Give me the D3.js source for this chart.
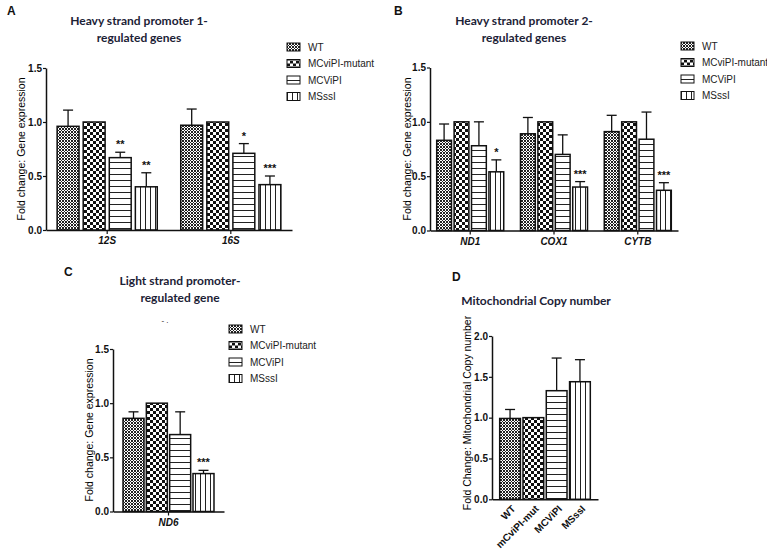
<!DOCTYPE html>
<html>
<head>
<meta charset="utf-8">
<script src="https://cdn.jsdelivr.net/npm/d3@7"></script>
<style>
  body { margin: 0; background: #fff; }
  svg text { font-family: "Liberation Sans", Arial, sans-serif; fill: #111; }
  .title { font-family: Lato, "Open Sans", sans-serif; font-weight: 700; font-size: 12px; fill: #1c2236; }
  .letter { font-weight: 700; font-size: 12px; }
  .tick text { font-weight: 700; font-size: 10px; }
  .xcat .tick text { font-style: italic; font-size: 10px; }
  .ylab { font-size: 10.5px; fill: #000; }
  .legend text { font-size: 10px; fill: #222; }
  .stars { font-weight: 700; font-size: 11px; }
</style>
</head>
<body>
<script>
const width = 767
const height = 551

// series (pattern order) shared by all panels
const series = ['WT', 'MCviPI-mutant', 'MCViPI', 'MSssI']

// A: heavy strand promoter 1
const genesA = ['12S', '16S']
const meanA = [[0.96, 1.0, 0.67, 0.40], [0.97, 1.0, 0.71, 0.42]]
const errA = [[0.15, 0, 0.05, 0.13], [0.15, 0, 0.09, 0.08]]
const starsA = [['', '', '**', '**'], ['', '', '*', '***']]

// B: heavy strand promoter 2
const genesB = ['ND1', 'COX1', 'CYTB']
const meanB = [[0.83, 1.0, 0.78, 0.54], [0.89, 1.0, 0.70, 0.40], [0.91, 1.0, 0.84, 0.37]]
const errB = [[0.15, 0, 0.22, 0.11], [0.15, 0, 0.18, 0.05], [0.15, 0, 0.25, 0.07]]
const starsB = [['', '', '', '*'], ['', '', '', '***'], ['', '', '', '***']]

// C: light strand promoter
const genesC = ['ND6']
const meanC = [[0.86, 1.0, 0.71, 0.35]]
const errC = [[0.06, 0, 0.21, 0.03]]
const starsC = [['', '', '', '***']]

// D: mitochondrial copy number
const catsD = ['WT', 'mCviPI-mut', 'MCViPI', 'MSssI']
const meanD = [0.99, 1.0, 1.33, 1.44]
const errD = [0.11, 0, 0.40, 0.27]

const ticks15 = [0, 0.5, 1.0, 1.5]
const ticks20 = [0, 0.5, 1.0, 1.5, 2.0]

let svg = d3.select('body').append('svg')
  .attr('width', width)
  .attr('height', height)

// fill patterns
const defs = svg.append('defs')
const pWT = defs.append('pattern').attr('id', 'p0')
  .attr('patternUnits', 'userSpaceOnUse').attr('width', 3).attr('height', 3)
pWT.append('rect').attr('width', 3).attr('height', 3).attr('fill', '#fff')
pWT.append('path').attr('d', 'M0 0h1v1h-1zM2 0h1v1h-1zM1 1h1v1h-1zM0 2h1v1h-1zM2 2h1v1h-1z').attr('fill', '#222')

const pMut = defs.append('pattern').attr('id', 'p1')
  .attr('patternUnits', 'userSpaceOnUse').attr('width', 6).attr('height', 6)
pMut.append('rect').attr('width', 6).attr('height', 6).attr('fill', '#fff')
pMut.append('path').attr('d', 'M0 0h3v3h-3zM3 3h3v3h-3z').attr('fill', '#111')

const pH = defs.append('pattern').attr('id', 'p2')
  .attr('patternUnits', 'userSpaceOnUse').attr('width', 6).attr('height', 6)
pH.append('rect').attr('width', 6).attr('height', 6).attr('fill', '#fff')
pH.append('rect').attr('y', 0).attr('width', 6).attr('height', 1).attr('fill', '#222')

const pV = defs.append('pattern').attr('id', 'p3')
  .attr('patternUnits', 'userSpaceOnUse').attr('width', 5).attr('height', 5)
pV.append('rect').attr('width', 5).attr('height', 5).attr('fill', '#fff')
pV.append('rect').attr('x', 0).attr('width', 1).attr('height', 5).attr('fill', '#222')

const fill = (i) => `url(#p${i})`

function styleAxis (sel) {
  sel.select('.domain').attr('stroke', '#111').attr('stroke-width', 1.5)
  sel.selectAll('.tick line').attr('stroke', '#111').attr('stroke-width', 1.2)
  sel.attr('font-family', null).attr('font-size', null)
}

function title (lines, cx, y0) {
  lines.forEach((t, i) => {
    svg.append('text').attr('class', 'title')
      .attr('x', cx).attr('y', y0 + i * 17)
      .attr('text-anchor', 'middle').text(t)
  })
}

// x is the baseline of the rotated label
function ylabel (text, x, cy) {
  svg.append('text').attr('class', 'ylab')
    .attr('transform', `translate(${x},${cy}) rotate(-90)`)
    .attr('text-anchor', 'middle').text(text)
}

function legend (lx, ly) {
  let lg = svg.append('g').attr('class', 'legend')
    .attr('transform', `translate(${lx},${ly})`)
  series.forEach((s, i) => {
    let row = lg.append('g').attr('transform', `translate(0,${i * 16.5})`)
    row.append('rect').attr('x', 0).attr('y', -4).attr('width', 13).attr('height', 8)
      .attr('fill', fill(i)).attr('stroke', '#111').attr('stroke-width', 1)
    row.append('text').attr('x', 21).attr('y', 3.5).text(s)
  })
}

function errorBars (g, data, cx, y) {
  let eb = g.append('g').selectAll('g')
    .data(data.filter((d) => d.e > 0))
    .enter().append('g')
  eb.append('line')
    .attr('x1', cx).attr('x2', cx)
    .attr('y1', (d) => y(d.v)).attr('y2', (d) => y(d.v + d.e))
    .attr('stroke', '#111').attr('stroke-width', 1.3)
  eb.append('line')
    .attr('x1', (d) => cx(d) - 5).attr('x2', (d) => cx(d) + 5)
    .attr('y1', (d) => y(d.v + d.e)).attr('y2', (d) => y(d.v + d.e))
    .attr('stroke', '#111').attr('stroke-width', 1.3)
}

function yAxis (g, y, x, ticks) {
  g.append('g').attr('transform', `translate(${x},0)`)
    .call(d3.axisLeft(y).tickValues(ticks).tickFormat(d3.format('.1f')).tickSize(3).tickSizeOuter(0).tickPadding(1))
    .call(styleAxis)
    .call((s) => s.selectAll('text').attr('fill', '#111'))
}

function grouped (p) {
  const g = svg.append('g')
  const y = d3.scaleLinear().domain([0, 1.5]).range([p.yb, p.yt])
  const x0 = d3.scaleBand().domain(p.genes).range(p.xr)
    .paddingInner(p.pi).paddingOuter(p.po)
  const x1 = d3.scaleBand().domain(series).range([0, x0.bandwidth()]).paddingInner(p.bp)

  const rows = p.genes.flatMap((gn, i) => series.map((s, j) => ({
    g: gn, s: s, j: j, v: p.mean[i][j], e: p.err[i][j], star: p.stars[i][j]
  })))
  const cx = (d) => x0(d.g) + x1(d.s) + x1.bandwidth() / 2

  errorBars(g, rows, cx, y)

  g.append('g').selectAll('rect')
    .data(rows)
    .enter().append('rect')
    .attr('x', (d) => x0(d.g) + x1(d.s))
    .attr('y', (d) => y(d.v))
    .attr('width', x1.bandwidth())
    .attr('height', (d) => y(0) - y(d.v))
    .attr('fill', (d) => fill(d.j))
    .attr('stroke', '#111').attr('stroke-width', 1.5)

  g.append('g').selectAll('text')
    .data(rows.filter((d) => d.star))
    .enter().append('text')
    .attr('class', 'stars')
    .attr('x', cx)
    .attr('y', (d) => y(d.v + d.e) - 4)
    .attr('text-anchor', 'middle')
    .text((d) => d.star)

  yAxis(g, y, p.xr[0], ticks15)

  g.append('g').attr('class', 'xcat').attr('transform', `translate(0,${p.yb})`)
    .call(d3.axisBottom(x0).tickSize(4).tickSizeOuter(0).tickPadding(3))
    .call(styleAxis)
    .call((s) => s.selectAll('text').attr('fill', '#111'))
}

// panel letters
svg.append('text').attr('class', 'letter').attr('x', 7).attr('y', 15).text('A')
svg.append('text').attr('class', 'letter').attr('x', 394).attr('y', 15).text('B')
svg.append('text').attr('class', 'letter').attr('x', 64).attr('y', 276).text('C')
svg.append('text').attr('class', 'letter').attr('x', 452).attr('y', 281).text('D')

// A
title(['Heavy strand promoter 1-', 'regulated genes'], 139, 25)
ylabel('Fold change: Gene expression', 25, 149)
grouped({ genes: genesA, mean: meanA, err: errA, stars: starsA,
  xr: [46, 292], pi: 0.19, po: 0.09, bp: 0.16, yb: 230, yt: 68 })
legend(287, 47)

// B
title(['Heavy strand promoter 2-', 'regulated genes'], 524, 25)
ylabel('Fold change: Gene expression', 411, 149)
grouped({ genes: genesB, mean: meanB, err: errB, stars: starsB,
  xr: [430, 678], pi: 0.2, po: 0.08, bp: 0.15, yb: 230.5, yt: 67.5 })
legend(681, 46)

// C
title(['Light strand promoter-', 'regulated gene'], 180, 285)
svg.append('text').attr('x', 165).attr('y', 323).attr('text-anchor', 'middle')
  .attr('font-size', 8).attr('fill', '#555').text('-      .')
ylabel('Fold change: Gene expression', 93, 430)
grouped({ genes: genesC, mean: meanC, err: errC, stars: starsC,
  xr: [113, 224], pi: 0, po: 0.11, bp: 0.1, yb: 511.5, yt: 349 })
legend(229, 329)

// D
title(['Mitochondrial Copy number'], 536, 305)
ylabel('Fold Change: Mitochondrial Copy number', 471, 413)
{
  const g = svg.append('g')
  const y = d3.scaleLinear().domain([0, 2.0]).range([499.3, 336])
  const x = d3.scaleBand().domain(catsD).range([492, 598]).paddingInner(0.11).paddingOuter(0.33)
  const rows = catsD.map((c, j) => ({ c: c, j: j, v: meanD[j], e: errD[j] }))
  const cx = (d) => x(d.c) + x.bandwidth() / 2

  errorBars(g, rows, cx, y)

  g.append('g').selectAll('rect')
    .data(rows)
    .enter().append('rect')
    .attr('x', (d) => x(d.c))
    .attr('y', (d) => y(d.v))
    .attr('width', x.bandwidth())
    .attr('height', (d) => y(0) - y(d.v))
    .attr('fill', (d) => fill(d.j))
    .attr('stroke', '#111').attr('stroke-width', 1.5)

  yAxis(g, y, 492, ticks20)

  g.append('g').attr('transform', 'translate(0,499.3)')
    .call(d3.axisBottom(x).tickSize(0).tickSizeOuter(0))
    .call(styleAxis)
    .call((s) => s.selectAll('text')
      .attr('fill', '#111')
      .attr('font-size', '9.5px')
      .attr('text-anchor', 'end')
      .attr('dy', null)
      .attr('transform', 'translate(4,8) rotate(-45)'))
}
</script>
</body>
</html>
